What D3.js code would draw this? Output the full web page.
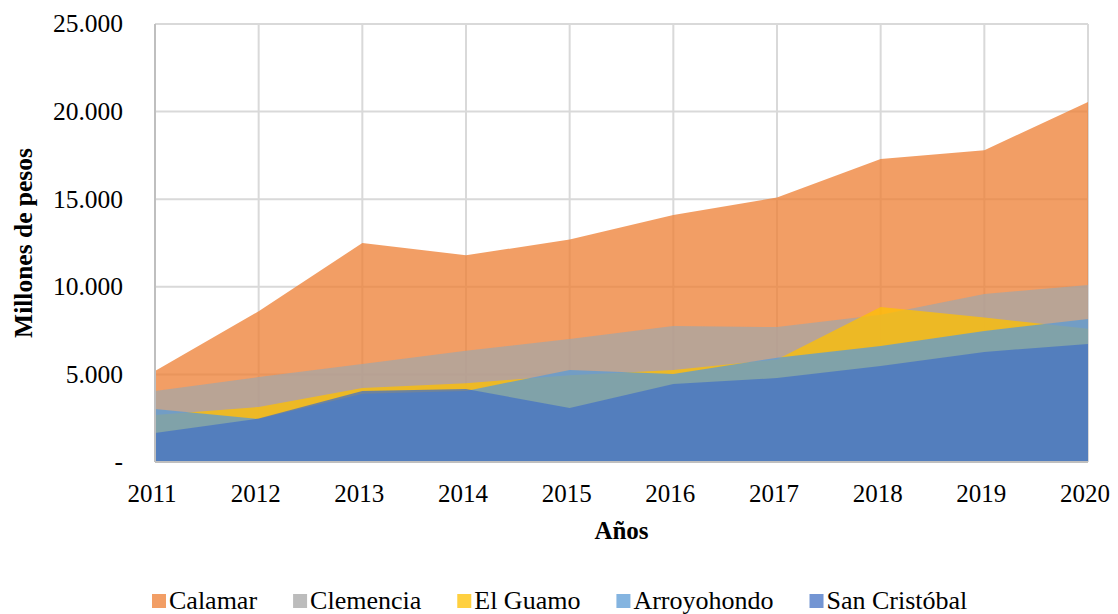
<!DOCTYPE html>
<html>
<head>
<meta charset="utf-8">
<script src="https://cdn.jsdelivr.net/npm/d3@7"></script>
<style>
  body { margin: 0; background: #fff; }
</style>
</head>
<body>
<div id="chart"></div>
<script>
// years on the x axis
const years = [2011, 2012, 2013, 2014, 2015, 2016, 2017, 2018, 2019, 2020];

// millones de pesos
const calamar      = [5200, 8600, 12500, 11800, 12700, 14100, 15100, 17300, 17800, 20550];
const clemencia    = [4050, 4850, 5600, 6350, 7020, 7760, 7700, 8400, 9590, 10100];
const elGuamo      = [2680, 3140, 4220, 4500, 4950, 5250, 5850, 8850, 8250, 7600];
const arroyohondo  = [3020, 2450, 3900, 4050, 5250, 5020, 5950, 6620, 7480, 8160];
const sanCristobal = [1650, 2480, 4050, 4170, 3080, 4450, 4790, 5480, 6280, 6740];

const seriesNames = ['Calamar', 'Clemencia', 'El Guamo', 'Arroyohondo', 'San Cristóbal'];
const seriesValues = [calamar, clemencia, elGuamo, arroyohondo, sanCristobal];
const colors = ['#ED7D31', '#A5A5A5', '#FFC000', '#5B9BD5', '#4472C4'];

const yTicks = [0, 5000, 10000, 15000, 20000, 25000];

const width = 1118, height = 614;
const margin = {top: 24, right: 30, bottom: 152, left: 155};
const serif = '"Liberation Serif", "Times New Roman", Times, serif';

const svg = d3.select('#chart').append('svg')
  .attr('width', width)
  .attr('height', height)
  .style('font-family', serif);

const x = d3.scaleLinear()
  .domain(d3.extent(years))
  .range([margin.left, width - margin.right]);

const y = d3.scaleLinear()
  .domain([0, 25000])
  .range([height - margin.bottom, margin.top]);

const fmt = v => v === 0 ? '-' : d3.format(',')(v).replace(/,/g, '.');

// gridlines
svg.append('g')
  .selectAll('line')
  .data(yTicks.slice(1))
  .enter().append('line')
    .attr('x1', margin.left).attr('x2', width - margin.right)
    .attr('y1', d => y(d)).attr('y2', d => y(d))
    .style('stroke', '#D9D9D9').style('stroke-width', 2);

svg.append('g')
  .selectAll('line')
  .data(years.slice(1))
  .enter().append('line')
    .attr('x1', d => x(d)).attr('x2', d => x(d))
    .attr('y1', margin.top).attr('y2', y(0))
    .style('stroke', '#D9D9D9').style('stroke-width', 2);

// overlapping areas, drawn in series order
const area = d3.area()
  .x((d, i) => x(years[i]))
  .y0(y(0))
  .y1(d => y(d));

svg.append('g')
  .selectAll('path')
  .data(seriesValues)
  .enter().append('path')
    .attr('d', area)
    .style('fill', (d, i) => colors[i])
    .style('fill-opacity', 0.75);

// axis lines
svg.append('line')
  .attr('x1', margin.left).attr('x2', margin.left)
  .attr('y1', margin.top).attr('y2', y(0))
  .style('stroke', '#BFBFBF').style('stroke-width', 2);
svg.append('line')
  .attr('x1', margin.left).attr('x2', width - margin.right)
  .attr('y1', y(0)).attr('y2', y(0))
  .style('stroke', '#BFBFBF').style('stroke-width', 2);

// y tick labels
svg.append('g')
  .selectAll('text')
  .data(yTicks)
  .enter().append('text')
    .attr('x', 123)
    .attr('y', d => y(d))
    .attr('dy', '0.33em')
    .attr('text-anchor', 'end')
    .style('font-size', '25.5px')
    .text(fmt);

// x tick labels
svg.append('g')
  .selectAll('text')
  .data(years)
  .enter().append('text')
    .attr('x', d => x(d) - 3)
    .attr('y', 502)
    .attr('text-anchor', 'middle')
    .style('font-size', '25px')
    .text(d => d);

// axis titles
svg.append('text')
  .attr('x', (margin.left + width - margin.right) / 2)
  .attr('y', 539)
  .attr('text-anchor', 'middle')
  .style('font-size', '25px')
  .style('font-weight', 'bold')
  .text('Años');

svg.append('text')
  .attr('transform', `translate(32, ${(margin.top + y(0)) / 2}) rotate(-90)`)
  .attr('text-anchor', 'middle')
  .style('font-size', '25.5px')
  .style('font-weight', 'bold')
  .text('Millones de pesos');

// legend
const legend = svg.append('g');
let lx = 152;
seriesNames.forEach((name, i) => {
  legend.append('rect')
    .attr('x', lx).attr('y', 594)
    .attr('width', 14).attr('height', 14)
    .style('fill', colors[i])
    .style('fill-opacity', 0.75);
  const t = legend.append('text')
    .attr('x', lx + 17)
    .attr('y', 609)
    .style('font-size', '26px')
    .text(name);
  lx += 17 + t.node().getComputedTextLength() + 36;
});
</script>
</body>
</html>
